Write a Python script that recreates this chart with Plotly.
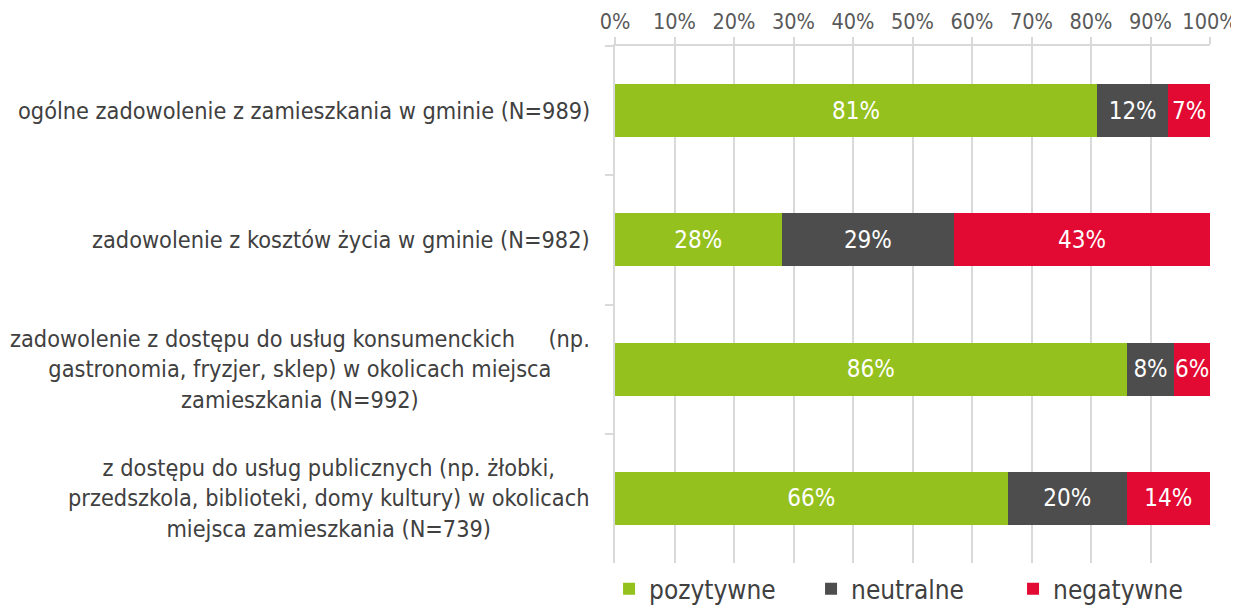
import plotly.graph_objects as go

categories = [
    "ogólne zadowolenie z zamieszkania w gminie (N=989)",
    "zadowolenie z kosztów życia w gminie (N=982)",
    "zadowolenie z dostępu do usług konsumenckich\u00a0\u00a0\u00a0\u00a0\u00a0(np.<br>gastronomia, fryzjer, sklep) w okolicach miejsca<br>zamieszkania (N=992)",
    "z dostępu do usług publicznych (np. żłobki,<br>przedszkola, biblioteki, domy kultury) w okolicach<br>miejsca zamieszkania (N=739)",
]
series_names = ["pozytywne", "neutralne", "negatywne"]
pozytywne = [81, 28, 86, 66]
neutralne = [12, 29, 8, 20]
negatywne = [7, 43, 6, 14]
tick_vals = [0, 10, 20, 30, 40, 50, 60, 70, 80, 90, 100]
tick_text = [f"{v}%" for v in tick_vals]

colors = ["#95C11F", "#4D4D4D", "#E20A32"]
FONT = "DejaVu Sans Condensed"
ids = ["c0", "c1", "c2", "c3"]

fig = go.Figure()
for name, vals, col in zip(series_names, [pozytywne, neutralne, negatywne], colors):
    fig.add_trace(go.Bar(
        y=ids, x=vals, name=name, orientation="h",
        marker=dict(color=col, line=dict(width=0)),
        text=[f"{v}%" for v in vals], textposition="inside",
        insidetextanchor="middle", constraintext="none", textangle=0,
        textfont=dict(color="white", size=24, family=FONT),
        width=0.41,
    ))

for cid, label in zip(ids, categories):
    fig.add_annotation(
        x=0, xref="paper", y=cid, yref="y", xanchor="right", yanchor="middle",
        xshift=-23, text=label, showarrow=False, align="center",
        font=dict(size=23.3, color="#404040", family=FONT),
    )

# page body has an 8px margin; the figure is sized to end at the window edges
fig.update_layout(
    barmode="stack",
    width=1231, height=598,
    margin=dict(l=607, r=29, t=38, b=43, autoexpand=False),
    paper_bgcolor="white", plot_bgcolor="white",
    font=dict(family=FONT, color="#595959", size=21.5),
    legend=dict(orientation="h", x=-0.01, xanchor="left", y=-0.05, yanchor="middle",
                font=dict(size=26, color="#404040", family=FONT), traceorder="normal",
                entrywidth=157, entrywidthmode="pixels"),
    showlegend=True,
)
fig.update_xaxes(
    side="top", range=[0, 100], tickvals=tick_vals, ticktext=tick_text,
    showgrid=True, gridcolor="#D9D9D9", gridwidth=1.5,
    showline=True, linecolor="#D9D9D9", linewidth=1.5,
    ticks="outside", ticklen=7, tickcolor="#D9D9D9", tickwidth=1.5,
    tickfont=dict(size=21.5, color="#595959", family=FONT),
    zeroline=False, fixedrange=True,
)
fig.update_yaxes(
    type="category", categoryorder="array", categoryarray=ids,
    autorange="reversed", showticklabels=False,
    showline=True, linecolor="#D9D9D9", linewidth=1.5,
    ticks="outside", ticklen=8, tickcolor="#D9D9D9", tickwidth=1.5,
    tickson="boundaries", showgrid=False, fixedrange=True,
)

fig.write_html("out.html")
